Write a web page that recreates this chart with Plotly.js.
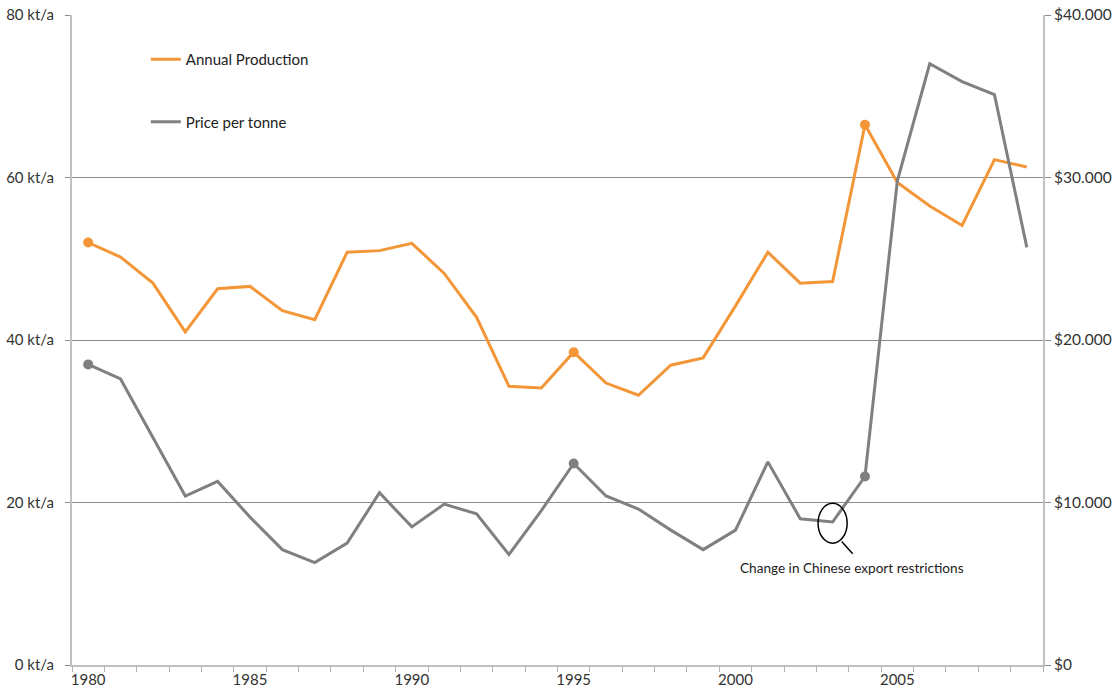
<!DOCTYPE html>
<html>
<head>
<meta charset="utf-8">
<script src="https://cdn.plot.ly/plotly-3.0.1.min.js"></script>
<style>html,body{margin:0;padding:0;background:#fff;}#chart{width:1120px;height:698px;}</style>
</head>
<body>
<div id="chart"></div>
<script>
// Data
var years = [1980,1981,1982,1983,1984,1985,1986,1987,1988,1989,1990,1991,1992,1993,1994,1995,1996,1997,1998,1999,2000,2001,2002,2003,2004,2005,2006,2007,2008,2009];
var production = [52.0,50.2,47.0,41.0,46.3,46.6,43.6,42.5,50.8,51.0,51.9,48.2,42.8,34.3,34.1,38.5,34.7,33.2,36.9,37.8,44.2,50.8,47.0,47.2,66.5,59.4,56.5,54.1,62.2,61.3];
var price = [18500,17600,14000,10400,11300,9100,7100,6300,7500,10600,8500,9900,9300,6800,9500,12400,10400,9600,8300,7100,8300,12500,9000,8800,11600,29800,37000,35900,35100,25700];
var highlightYears = [1980,1995,2004];
var leftTickVals = [0,20,40,60,80];
var leftTickText = ['0 kt/a','20 kt/a','40 kt/a','60 kt/a','80 kt/a'];
var rightTickVals = [0,10000,20000,30000,40000];
var rightTickText = ['$0','$10.000','$20.000','$30.000','$40.000'];
var labelYears = [1980,1985,1990,1995,2000,2005];
var noteYear = 2003;
var noteText = 'Change in Chinese export restrictions';

var orange = '#f39638';
var gray = '#808080';
var font = 'Lato, "Open Sans", sans-serif';

function pick(arr){ return highlightYears.map(function(y){ return arr[years.indexOf(y)]; }); }

var traces = [
  {x: years, y: production, type:'scatter', mode:'lines', name:'Annual Production',
   line:{color:orange, width:3}, yaxis:'y', legendgroup:'a'},
  {x: years, y: price, type:'scatter', mode:'lines', name:'Price per tonne',
   line:{color:gray, width:3}, yaxis:'y2', legendgroup:'b'},
  {x: highlightYears, y: pick(production), type:'scatter', mode:'markers', showlegend:false,
   marker:{color:orange, size:10}, yaxis:'y', hoverinfo:'skip'},
  {x: highlightYears, y: pick(price), type:'scatter', mode:'markers', showlegend:false,
   marker:{color:gray, size:10}, yaxis:'y2', hoverinfo:'skip'}
];

var noteP = price[years.indexOf(noteYear)];

var layout = {
  width:1120, height:698,
  margin:{l:72, r:77, t:15, b:33},
  paper_bgcolor:'#fff', plot_bgcolor:'#fff',
  font:{family:font, size:15, color:'#404040'},
  showlegend:true,
  legend:{x:0.076, y:0.957, xanchor:'left', yanchor:'top', bgcolor:'rgba(0,0,0,0)',
          tracegroupgap:40, traceorder:'grouped', font:{size:15, color:'#222'}},
  xaxis:{type:'linear', range:[1979.5,2009.5], tickvals:labelYears, ticktext:labelYears.map(String),
         showgrid:false, zeroline:false, showline:true, linecolor:'#c0c0c0', linewidth:2,
         ticks:'', ticklen:0,
         minor:{tick0:1979.5, dtick:1, ticks:'outside', ticklen:5, tickcolor:'#b0b0b0', tickwidth:1, showgrid:false},
         tickfont:{size:15, color:'#333'}, fixedrange:true},
  yaxis:{range:[0,80], tickvals:leftTickVals, ticktext:leftTickText,
         showgrid:true, gridcolor:'#8c8c8c', gridwidth:1, zeroline:false,
         showline:true, linecolor:'#c0c0c0', linewidth:2,
         ticks:'outside', ticklen:5, tickcolor:'#8c8c8c', ticklabelstandoff:8,
         tickfont:{size:15, color:'#333'}},
  yaxis2:{range:[0,40000], overlaying:'y', side:'right', tickvals:rightTickVals, ticktext:rightTickText,
          showgrid:false, zeroline:false, showline:true, linecolor:'#c0c0c0', linewidth:2,
          ticks:'outside', ticklen:6, tickcolor:'#8c8c8c',
          tickfont:{size:15.5, color:'#333'}},
  shapes:[
    {type:'circle', xref:'x', yref:'y2', x0:noteYear-0.45, x1:noteYear+0.45,
     y0:noteP-1300, y1:noteP+1150, line:{color:'#000', width:1.5}},
    {type:'line', xref:'x', yref:'y2', x0:noteYear+0.28, x1:noteYear+0.62,
     y0:noteP-1200, y1:noteP-1950, line:{color:'#000', width:1.5}}
  ],
  annotations:[
    {xref:'x', yref:'y2', x:noteYear+0.6, y:noteP-2850, text:noteText, showarrow:false,
     font:{size:13.6, color:'#222'}, xanchor:'center', yanchor:'middle'}
  ]
};

Plotly.newPlot('chart', traces, layout, {displayModeBar:false, staticPlot:true});
</script>
</body>
</html>
